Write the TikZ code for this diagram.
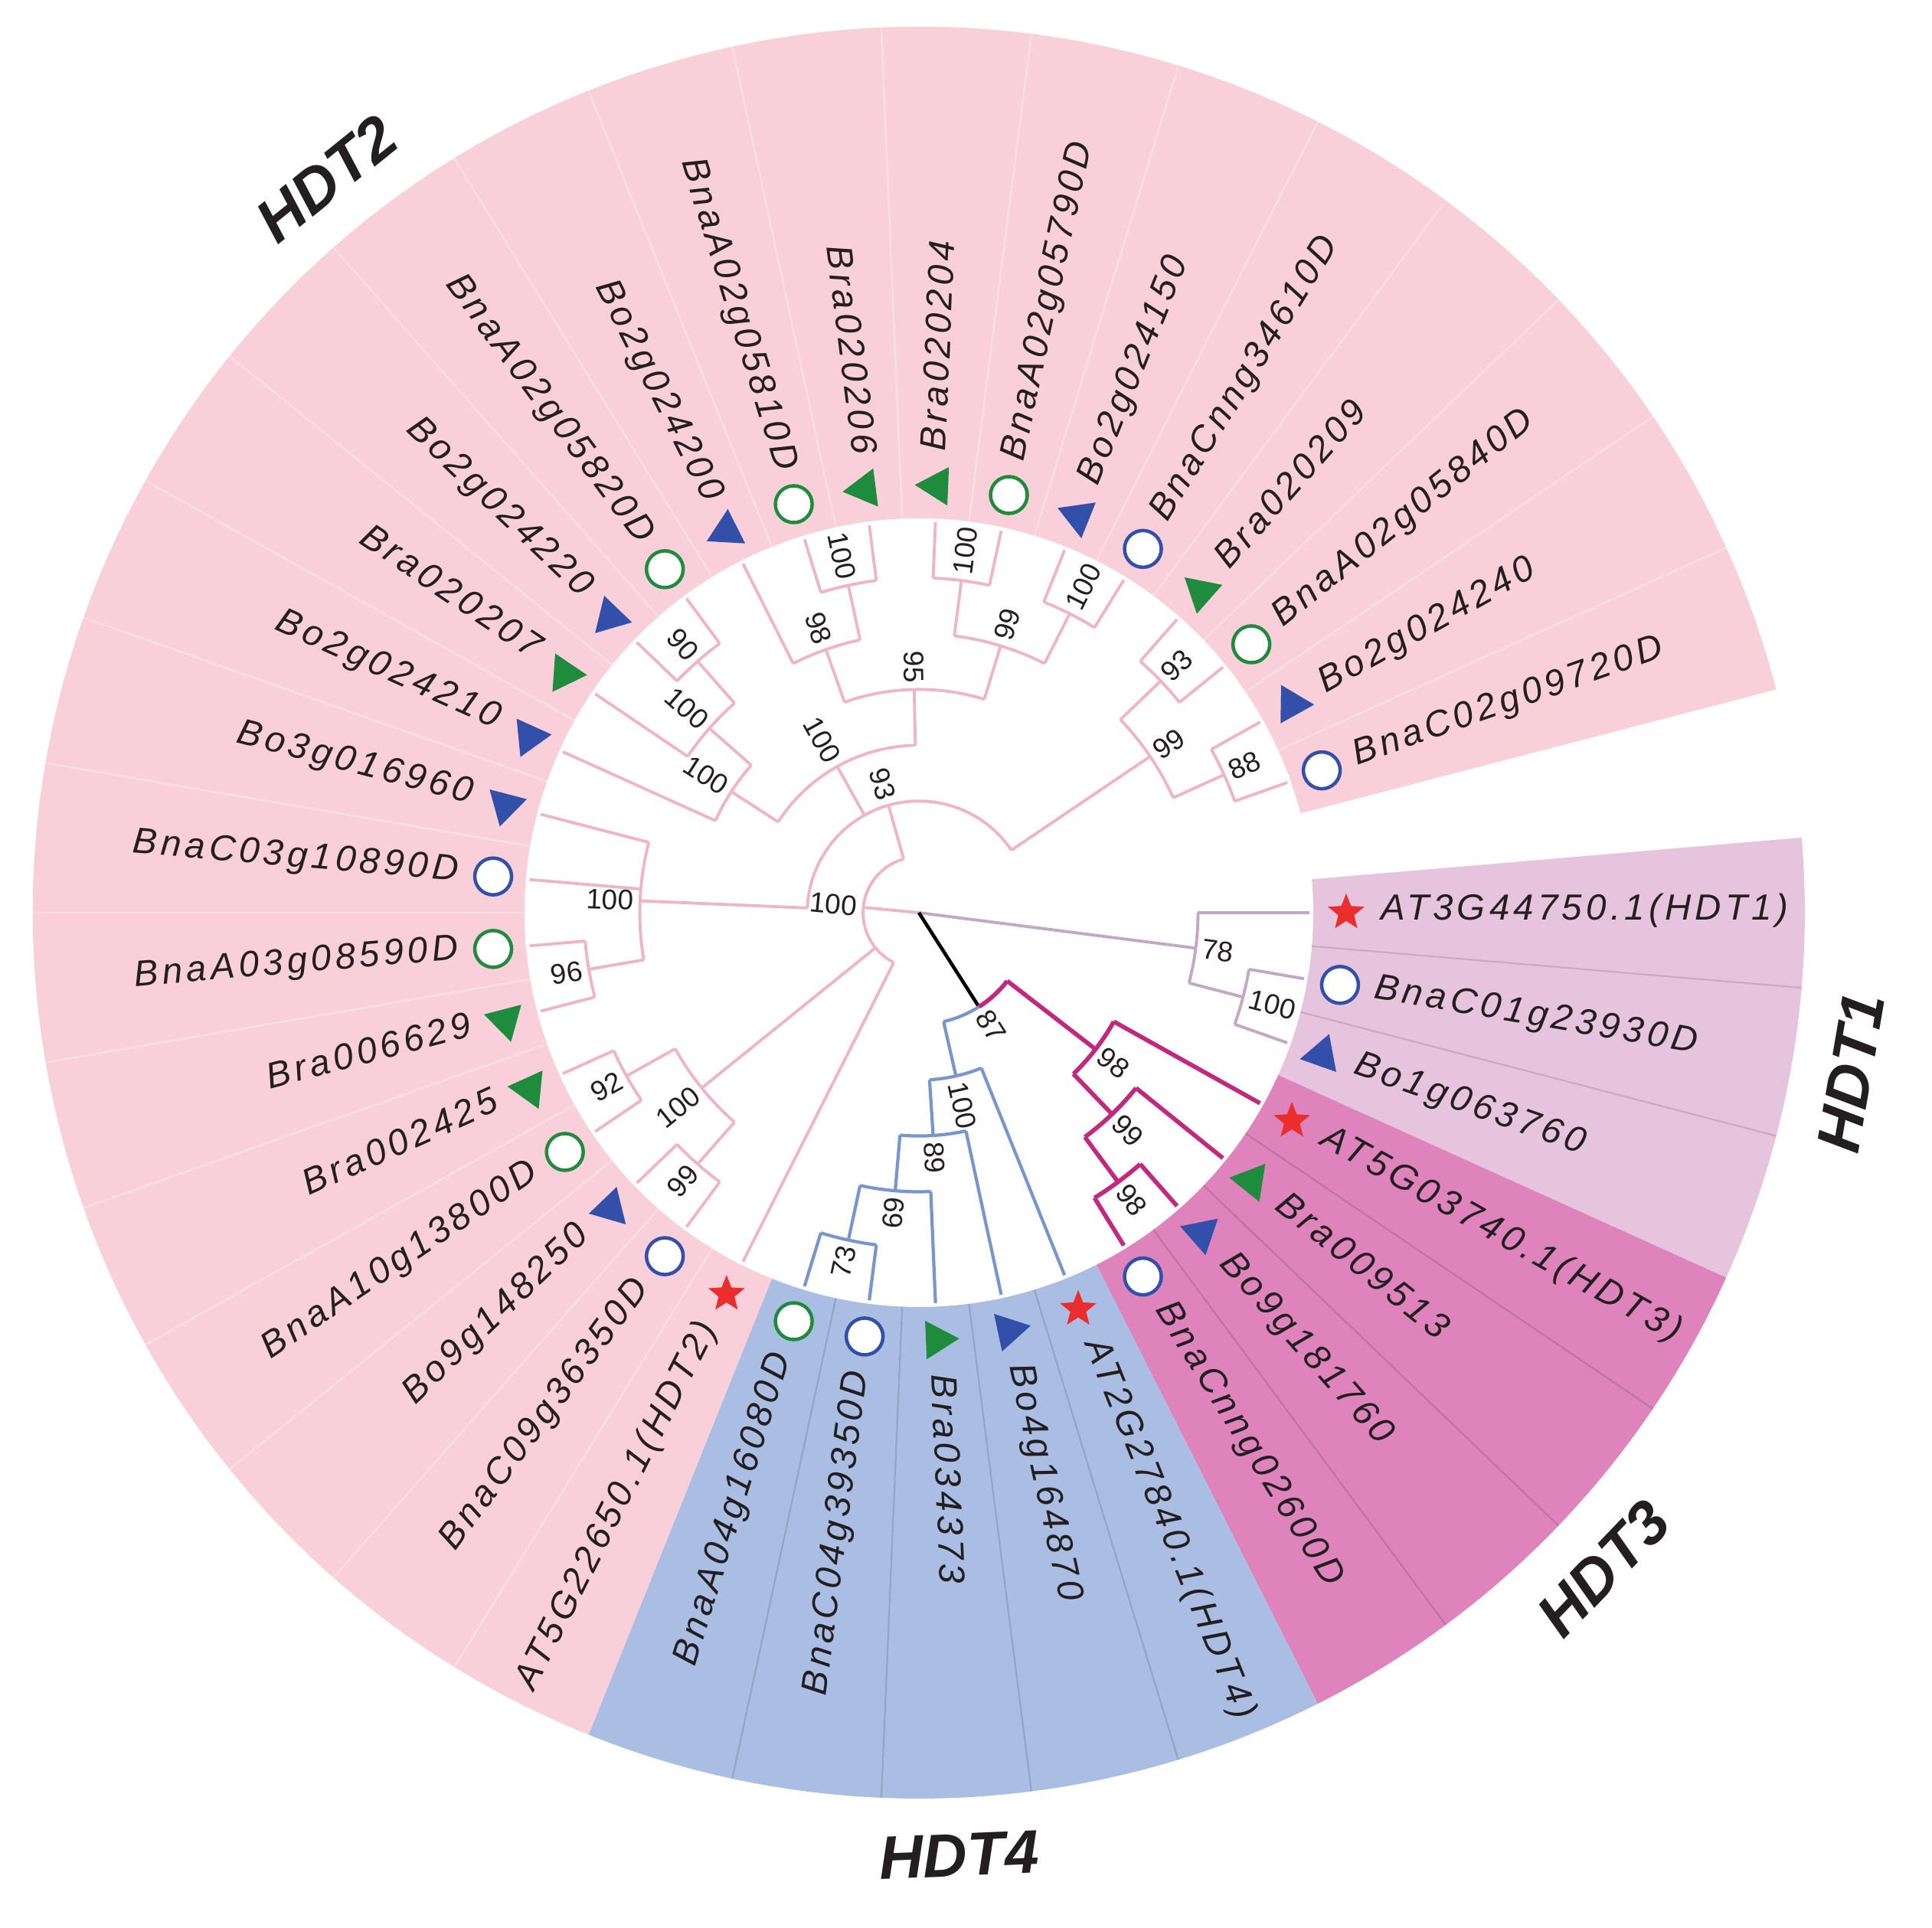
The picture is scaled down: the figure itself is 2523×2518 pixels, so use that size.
\documentclass[tikz,border=0pt]{standalone}
\usepackage{fontspec}
\setmainfont{Liberation Sans}
\newfontfamily\genefont{Liberation Sans}[LetterSpace=11]
\usetikzlibrary{shapes.geometric}

\definecolor{seci}{HTML}{E7C4DE}
\definecolor{secii}{HTML}{F9CFD9}
\definecolor{seciii}{HTML}{DF83BC}
\definecolor{seciv}{HTML}{A9BEE2}
\definecolor{bri}{HTML}{C4A6C6}
\definecolor{brii}{HTML}{F0B4C8}
\definecolor{briii}{HTML}{C3287D}
\definecolor{briv}{HTML}{7896CC}
\definecolor{mkgreen}{HTML}{1E8C3C}
\definecolor{mkblue}{HTML}{3250AA}
\definecolor{mkred}{HTML}{EB2D2D}
\definecolor{txt}{HTML}{231F20}

\def\st{9.72973}
\def\lv{72.9}

\tikzset{
  hdti/.style={draw=bri,line width=1.1pt},
  hdtii/.style={draw=brii,line width=1.1pt},
  hdtiii/.style={draw=briii,line width=1.6pt},
  hdtiv/.style={draw=briv,line width=1.2pt},
  rootbr/.style={draw=black,line width=1.3pt},
  sepdark/.style={draw=black,opacity=0.13,line width=0.6pt},
  seplight/.style={draw=white,opacity=0.3,line width=0.7pt},
  boot/.style={font=\fontsize{10.5}{10.5}\selectfont,text=txt,inner sep=0pt},
  gene/.style={font=\fontsize{13.5}{13.5}\selectfont\genefont\itshape,text=txt,inner sep=0pt},
  clade/.style={font=\fontsize{22.7}{22.7}\selectfont\bfseries\itshape,text=txt,inner sep=0pt},
  mstar/.style={shape=star,star points=5,star point ratio=2.3,fill=mkred,minimum size=0.5cm,inner sep=0pt},
  mcg/.style={circle,draw=mkgreen,fill=white,line width=0.045cm,minimum size=0.48cm,inner sep=0pt},
  mcb/.style={circle,draw=mkblue,fill=white,line width=0.045cm,minimum size=0.48cm,inner sep=0pt},
  mtg/.style={regular polygon,regular polygon sides=3,fill=mkgreen,minimum size=0.58cm,inner sep=0pt,shape border rotate=#1},
  mtb/.style={regular polygon,regular polygon sides=3,fill=mkblue,minimum size=0.58cm,inner sep=0pt,shape border rotate=#1}
}

\begin{document}
\begin{tikzpicture}[x=0.01cm,y=0.01cm]
\useasboundingbox (-1200,-1326) rectangle (1323,1192);

\foreach \sa/\sb/\col in {-0.5/2.5/seci,2.5/6.5/seciii,6.5/11.5/seciv,11.5/35.5/secii}{
  \fill[\col] ({-\st*\sa}:515) arc[start angle={-\st*\sa},end angle={-\st*\sb},radius=515]
    -- ({-\st*\sb}:1157) arc[start angle={-\st*\sb},end angle={-\st*\sa},radius=1157] -- cycle;
}
\foreach \k in {0.5,1.5,3.5,4.5,5.5,7.5,8.5,9.5,10.5}{
  \draw[sepdark] ({-\st*\k}:515) -- ({-\st*\k}:1157);
}
\foreach \k in {12,...,34}{
  \draw[seplight] ({-\st*(\k+0.5)}:515) -- ({-\st*(\k+0.5)}:1157);
}

\coordinate (root) at (0,0);

\foreach \nid/\pos/\lev/\plev/\bsv/\fa/\fb/\sty in {
  n12/1.5/6/5/100/1/2/hdti,
  n78/0.75/5/0/78/0/1.5/hdti,
  n98b/5.5/6/5/98/5/6/hdtiii,
  n99h/4.75/5/4/99/4/5.5/hdtiii,
  nh3/3.875/4/2/98/3/4.75/hdtiii,
  n73/10.5/6/5/73/10/11/hdtiv,
  n69/9.75/5/4/69/9/10.5/hdtiv,
  n89/8.875/4/3/89/8/9.75/hdtiv,
  nh4/7.9375/3/2/100/7/8.875/hdtiv,
  n99c/13.5/6/5/99/13/14/hdtii,
  n92/15.5/6/5/92/15/16/hdtii,
  n218/14.5/5/1/100/13.5/15.5/hdtii,
  n96/17.5/6/5/96/17/18/hdtii,
  nS/18.75/5/2/100/17.5/20/hdtii,
  n90/23.5/6/5/90/23/24/hdtii,
  n100a/22.75/5/4/100/22/23.5/hdtii,
  nA/21.875/4/3/100/21/22.75/hdtii,
  n100b/26.5/6/5/100/26/27/hdtii,
  n98/25.75/5/4/98/25/26.5/hdtii,
  n100c/28.5/6/5/100/28/29/hdtii,
  n100d/30.5/6/5/100/30/31/hdtii,
  n99a/29.5/5/4/99/28.5/30.5/hdtii,
  n95/27.625/4/3/95/25.75/29.5/hdtii,
  n220/24.75/3/2/100/21.875/27.625/hdtii,
  n93b/32.5/6/5/93/32/33/hdtii,
  n88/34.5/6/5/88/34/35/hdtii,
  n99b/33.5/5/2/99/32.5/34.5/hdtii,
  n93/26.125/2/1/93/18.75/33.5/hdtii,
  nh2/19.0625/1/0/100/12/26.125/hdtii}{
  \pgfmathsetmacro\ang{-\st*\pos}
  \coordinate (\nid) at (\ang:{\lv*\lev});
  \coordinate (\nid-b) at (\ang:{\lv*\plev});
  \draw[\sty] (\nid-b) -- (\nid);
  \draw[\sty] ({-\st*\fa}:{\lv*\lev}) arc[start angle={-\st*\fa},end angle={-\st*\fb},radius={\lv*\lev}];
  \pgfmathtruncatemacro\lft{(\ang<-90)*(\ang>-270)}
  \ifnum\lft=1
    \node[boot,anchor=east,rotate=\ang+180] (bs-\nid) at (\ang:{\lv*\lev+8}) {\bsv};
  \else
    \node[boot,anchor=west,rotate=\ang] (bs-\nid) at (\ang:{\lv*\lev+8}) {\bsv};
  \fi
}

\coordinate (n87) at ({-\st*5.90625}:{\lv*2});
\draw[rootbr] (root) -- (n87);
\draw[hdtiii] ({-\st*3.875}:{\lv*2}) arc[start angle={-\st*3.875},end angle={-\st*5.90625},radius={\lv*2}];
\draw[hdtiv] ({-\st*5.90625}:{\lv*2}) arc[start angle={-\st*5.90625},end angle={-\st*7.9375},radius={\lv*2}];
\node[boot,anchor=west,rotate={-\st*5.90625}] (bs-n87) at ({-\st*5.90625}:{\lv*2+8}) {87};

\foreach \k/\nm/\mk/\plev/\sty in {
  0/AT3G44750.1(HDT1)/mstar/5/hdti,
  1/BnaC01g23930D/mcb/6/hdti,
  2/Bo1g063760/mtb/6/hdti,
  3/AT5G03740.1(HDT3)/mstar/4/hdtiii,
  4/Bra009513/mtg/5/hdtiii,
  5/Bo9g181760/mtb/6/hdtiii,
  6/BnaCnng02600D/mcb/6/hdtiii,
  7/AT2G27840.1(HDT4)/mstar/3/hdtiv,
  8/Bo4g164870/mtb/4/hdtiv,
  9/Bra034373/mtg/5/hdtiv,
  10/BnaC04g39350D/mcb/6/hdtiv,
  11/BnaA04g16080D/mcg/6/hdtiv,
  12/AT5G22650.1(HDT2)/mstar/1/hdtii,
  13/BnaC09g36350D/mcb/6/hdtii,
  14/Bo9g148250/mtb/6/hdtii,
  15/BnaA10g13800D/mcg/6/hdtii,
  16/Bra002425/mtg/6/hdtii,
  17/Bra006629/mtg/6/hdtii,
  18/BnaA03g08590D/mcg/6/hdtii,
  19/BnaC03g10890D/mcb/5/hdtii,
  20/Bo3g016960/mtb/5/hdtii,
  21/Bo2g024210/mtb/4/hdtii,
  22/Bra020207/mtg/5/hdtii,
  23/Bo2g024220/mtb/6/hdtii,
  24/BnaA02g05820D/mcg/6/hdtii,
  25/Bo2g024200/mtb/5/hdtii,
  26/BnaA02g05810D/mcg/6/hdtii,
  27/Bra020206/mtg/6/hdtii,
  28/Bra020204/mtg/6/hdtii,
  29/BnaA02g05790D/mcg/6/hdtii,
  30/Bo2g024150/mtb/6/hdtii,
  31/BnaCnng34610D/mcb/6/hdtii,
  32/Bra020209/mtg/6/hdtii,
  33/BnaA02g05840D/mcg/6/hdtii,
  34/Bo2g024240/mtb/6/hdtii,
  35/BnaC02g09720D/mcb/6/hdtii}{
  \pgfmathsetmacro\ang{-\st*\k}
  \coordinate (t\k) at (\ang:510.3);
  \coordinate (t\k-b) at (\ang:{\lv*\plev});
  \draw[\sty] (t\k-b) -- (t\k);
  \node[\mk=\ang] (m\k) at (\ang:558) {};
  \pgfmathtruncatemacro\lft{(\ang<-90)*(\ang>-270)}
  \ifnum\lft=1
    \node[gene,anchor=mid east,rotate=\ang+180] (g\k) at (\ang:603) {\nm};
  \else
    \node[gene,anchor=mid west,rotate=\ang] (g\k) at (\ang:603) {\nm};
  \fi
}

\node[clade,rotate=80.27] (c1) at (-9.73:1235) {HDT1};
\node[clade,rotate=38.9] (c2) at (128.9:1232) {HDT2};
\node[clade,rotate=46.22] (c3) at (-43.78:1238) {HDT3};
\node[clade,rotate=2.43] (c4) at (-87.57:1232) {HDT4};
\end{tikzpicture}
\end{document}
